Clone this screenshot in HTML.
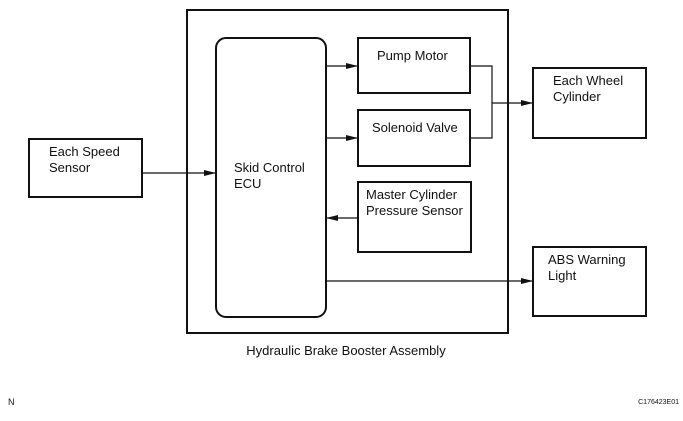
<!DOCTYPE html>
<html><head><meta charset="utf-8"><style>
body{margin:0;background:#fff;}
svg text{font-family:"Liberation Sans",Arial,sans-serif;font-size:13px;fill:#111;}
</style></head><body>
<svg width="683" height="416" viewBox="0 0 683 416" xmlns="http://www.w3.org/2000/svg">
<defs><marker id="a" markerWidth="12" markerHeight="6" refX="12" refY="3" orient="auto" markerUnits="userSpaceOnUse"><path d="M0,0 L12,3 L0,6 z" fill="#111"/></marker></defs>
<g fill="none" stroke="#111" stroke-width="2">
<rect x="187" y="10" width="321" height="323"/>
<rect x="216" y="38" width="110" height="279" rx="10"/>
<rect x="358" y="38" width="112" height="55"/>
<rect x="358" y="110" width="112" height="56"/>
<rect x="358" y="182" width="113" height="70"/>
<rect x="533" y="68" width="113" height="70"/>
<rect x="533" y="247" width="113" height="69"/>
<rect x="29" y="139" width="113" height="58"/>
</g>
<g fill="none" stroke="#111" stroke-width="1.2">
<line x1="142" y1="173" x2="216" y2="173" marker-end="url(#a)"/>
<line x1="326" y1="66" x2="358" y2="66" marker-end="url(#a)"/>
<line x1="326" y1="138" x2="358" y2="138" marker-end="url(#a)"/>
<line x1="358" y1="218" x2="326" y2="218" marker-end="url(#a)"/>
<line x1="326" y1="281" x2="533" y2="281" marker-end="url(#a)"/>
<polyline points="470,66 492,66 492,138 470,138"/>
<line x1="492" y1="103" x2="533" y2="103" marker-end="url(#a)"/>
</g>
<text x="49" y="156">Each Speed</text><text x="49" y="172">Sensor</text>
<text x="234" y="172">Skid Control</text><text x="234" y="188">ECU</text>
<text x="377" y="60">Pump Motor</text>
<text x="372" y="132">Solenoid Valve</text>
<text x="366" y="199">Master Cylinder</text><text x="366" y="215">Pressure Sensor</text>
<text x="553" y="85">Each Wheel</text><text x="553" y="101">Cylinder</text>
<text x="548" y="264">ABS Warning</text><text x="548" y="280">Light</text>
<text x="346" y="355" text-anchor="middle">Hydraulic Brake Booster Assembly</text>
<text x="8" y="405" style="font-size:9px">N</text>
<text x="679" y="404" text-anchor="end" style="font-size:7px">C176423E01</text>
</svg>
</body></html>
